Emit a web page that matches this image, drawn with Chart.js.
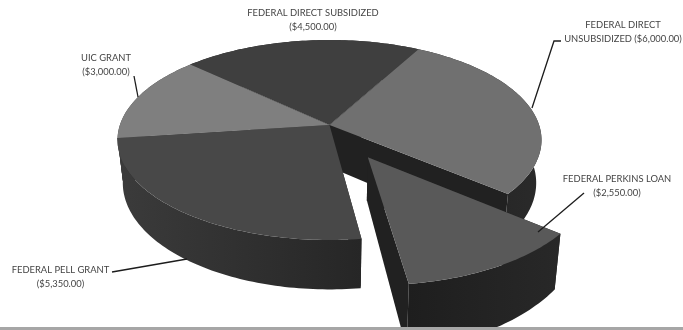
<!DOCTYPE html>
<html>
<head>
<meta charset="utf-8">
<style>
  html, body { margin: 0; padding: 0; background: #fff; overflow: hidden; }
  #wrap { position: relative; width: 683px; height: 330px; }
  #rule { position: absolute; left: 0; right: 0; bottom: 0; height: 3px; background: #a6a6a6; }
</style>
<script src="https://cdn.jsdelivr.net/npm/chart.js@4/dist/chart.umd.js"></script>
</head>
<body>
<div id="wrap">
  <canvas id="chart" width="683" height="330"></canvas>
  <div id="rule"></div>
</div>
<script>
const categories = [
  "FEDERAL DIRECT SUBSIDIZED",
  "FEDERAL DIRECT UNSUBSIDIZED",
  "FEDERAL PERKINS LOAN",
  "FEDERAL PELL GRANT",
  "UIC GRANT",
];
const amounts = [4500, 6000, 2550, 5350, 3000];
const topColors = ["#3f3f3f", "#707070", "#595959", "#484848", "#7f7f7f"];
const cutColor = "#212121";
const wallColors = [
  ["#2a2a2a", "#2a2a2a"],
  ["#212121", "#2a2a2a"],
  ["#1e1e1e", "#282828"],
  ["#3b3b3b", "#262626"],
  ["#3b3b3b", "#3b3b3b"],
];

// pie placement on the page, tilted with a little perspective
const center = { x: 329.5, y: 125 };
const radiusX = 209.6;
const radiusY = 97.75;
const tilt = 0.15;
const depth = 42;
const pulledDepth = 38;
const taper = 0.975;
const explodedIndex = 2;
const explodeBy = 0.36;

const money = (v) => "($" + v.toLocaleString("en-US", { minimumFractionDigits: 2 }) + ")";

const labelLines = [
  [categories[0], money(amounts[0])],
  ["FEDERAL DIRECT", "UNSUBSIDIZED " + money(amounts[1])],
  [categories[2], money(amounts[2])],
  [categories[3], money(amounts[3])],
  [categories[4], money(amounts[4])],
];
const labelSpots = [
  { x: 313, y: 13 },
  { x: 623, y: 25 },
  { x: 617, y: 179 },
  { x: 60.5, y: 270 },
  { x: 106, y: 58 },
];
const leaders = [
  [],
  [[561, 41], [554, 41], [532, 108]],
  [[584, 193], [538, 232]],
  [[112, 272], [187, 259]],
  [[134, 76], [138, 97]],
];

// u, v on the unit disc; the pulled slice sits closer, so its height grows faster
function project(u, v, low, pulled) {
  const s = 1 / (1 - tilt * v);
  const x = center.x + radiusX * u * s;
  const y = center.y + radiusY * v * s;
  if (!low) return [x, y];
  const h = pulled ? pulledDepth * Math.pow(s, 2.5) : depth * s;
  return [center.x + (x - center.x) * taper, y + h];
}

function arcPoints(a0, a1, ox, oy, low) {
  const pts = [];
  const steps = Math.ceil((a1 - a0) / 0.02);
  for (let i = 0; i <= steps; i++) {
    const a = a0 + ((a1 - a0) * i) / steps;
    pts.push(project(ox + Math.cos(a), oy + Math.sin(a), low, ox !== 0));
  }
  return pts;
}

function fillPoly(ctx, pts, fill) {
  ctx.beginPath();
  pts.forEach((p, i) => (i ? ctx.lineTo(p[0], p[1]) : ctx.moveTo(p[0], p[1])));
  ctx.closePath();
  ctx.fillStyle = fill;
  ctx.fill();
}

function drawCuts(ctx, arc, ox, oy) {
  const pulled = ox !== 0;
  const hubTop = project(ox, oy, false, pulled);
  const hubLow = project(ox, oy, true, pulled);
  [arc.startAngle, arc.endAngle].forEach((a) => {
    const u = ox + Math.cos(a);
    const v = oy + Math.sin(a);
    fillPoly(ctx, [hubTop, project(u, v, false, pulled), project(u, v, true, pulled), hubLow], cutColor);
  });
}

function drawRim(ctx, arc, i, ox, oy) {
  const top = arcPoints(arc.startAngle, arc.endAngle, ox, oy, false);
  const low = arcPoints(arc.startAngle, arc.endAngle, ox, oy, true);
  const xs = top.map((p) => p[0]);
  const grad = ctx.createLinearGradient(Math.min(...xs), 0, Math.max(...xs), 0);
  grad.addColorStop(0, wallColors[i][0]);
  grad.addColorStop(1, wallColors[i][1]);
  fillPoly(ctx, top.concat(low.reverse()), grad);
}

function drawTop(ctx, arc, i, ox, oy) {
  const pts = [project(ox, oy, false)].concat(arcPoints(arc.startAngle, arc.endAngle, ox, oy, false));
  fillPoly(ctx, pts, topColors[i]);
}

// paints the arcs computed by the pie controller as a solid tilted pie
const solidPie = {
  id: "solidPie",
  beforeDatasetDraw(chart, args) {
    const ctx = chart.ctx;
    const arcs = args.meta.data;
    const pulled = arcs[explodedIndex];
    const midAngle = (pulled.startAngle + pulled.endAngle) / 2;
    const ox = Math.cos(midAngle) * explodeBy;
    const oy = Math.sin(midAngle) * explodeBy;
    const rest = arcs.map((arc, i) => [arc, i]).filter((e) => e[1] !== explodedIndex);
    ctx.save();
    rest.forEach(([arc]) => drawCuts(ctx, arc, 0, 0));
    rest.forEach(([arc, i]) => drawRim(ctx, arc, i, 0, 0));
    rest.forEach(([arc, i]) => drawTop(ctx, arc, i, 0, 0));
    drawCuts(ctx, pulled, ox, oy);
    drawRim(ctx, pulled, explodedIndex, ox, oy);
    drawTop(ctx, pulled, explodedIndex, ox, oy);
    ctx.restore();
    return false;
  },
  afterDatasetsDraw(chart) {
    const ctx = chart.ctx;
    ctx.save();
    ctx.strokeStyle = "#1c1c1c";
    ctx.lineWidth = 1.3;
    leaders.forEach((line) => {
      if (!line.length) return;
      ctx.beginPath();
      line.forEach((p, i) => (i ? ctx.lineTo(p[0], p[1]) : ctx.moveTo(p[0], p[1])));
      ctx.stroke();
    });
    ctx.fillStyle = "#444";
    ctx.font = "9.4px Lato";
    ctx.textAlign = "center";
    ctx.textBaseline = "middle";
    labelLines.forEach((lines, i) => {
      lines.forEach((txt, j) => ctx.fillText(txt, labelSpots[i].x, labelSpots[i].y + j * 14));
    });
    ctx.restore();
  },
};

new Chart(document.getElementById("chart"), {
  type: "pie",
  data: {
    labels: categories,
    datasets: [{ data: amounts, backgroundColor: topColors }],
  },
  options: {
    responsive: false,
    animation: false,
    rotation: -47,
    plugins: { legend: { display: false }, tooltip: { enabled: false } },
  },
  plugins: [solidPie],
});
</script>
</body>
</html>
